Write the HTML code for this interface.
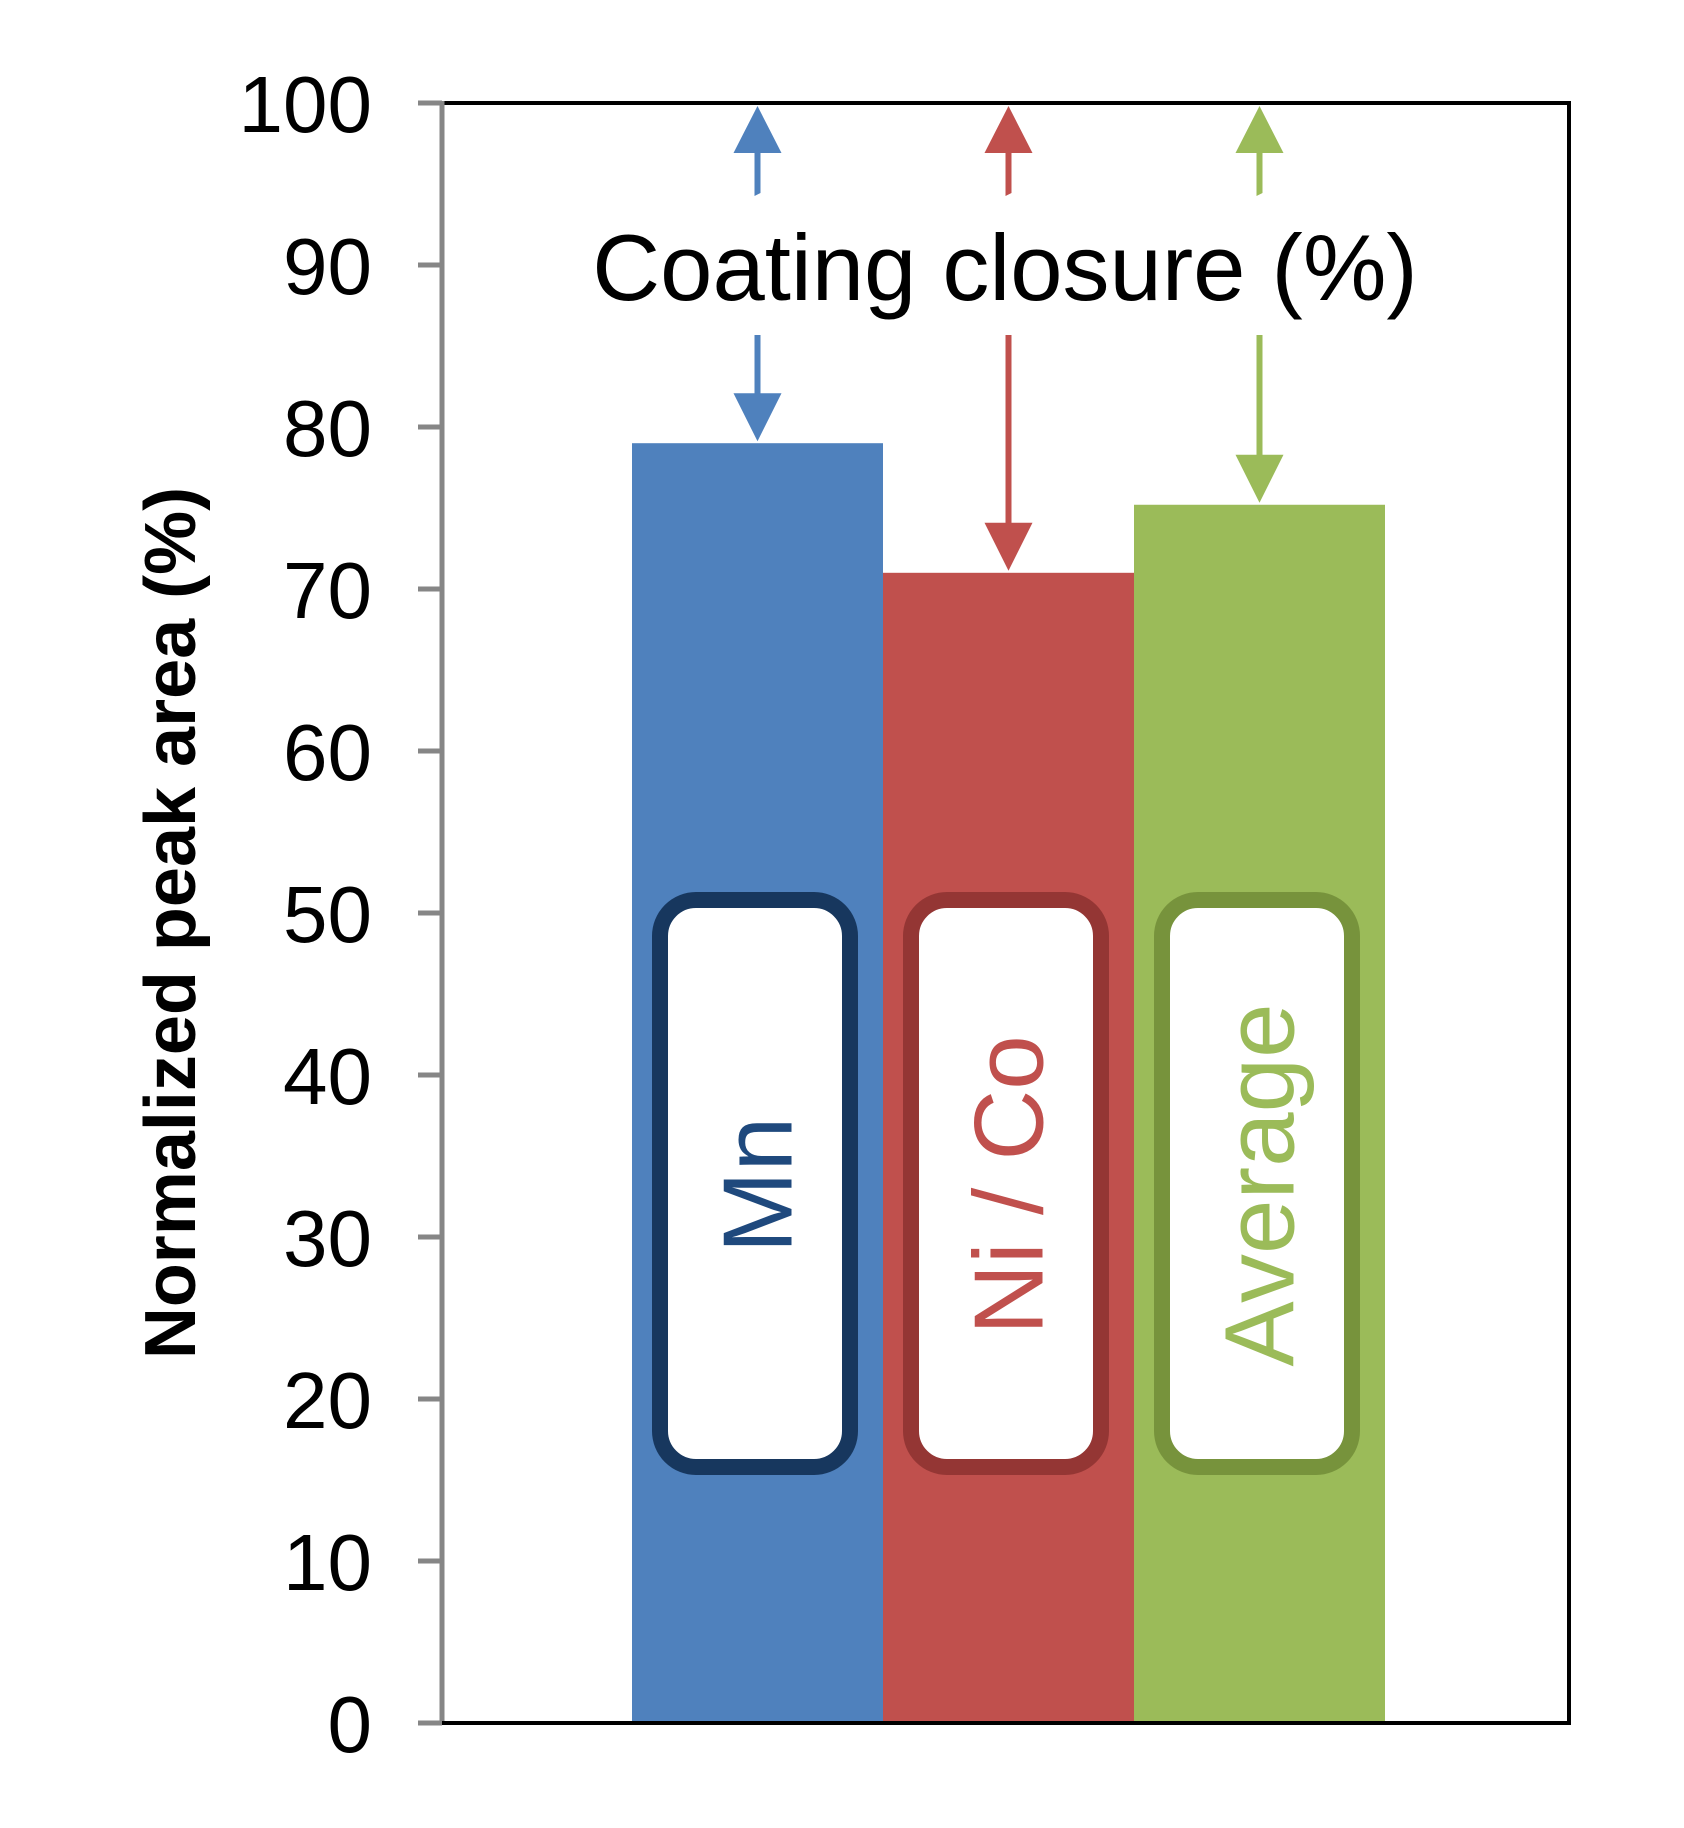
<!DOCTYPE html>
<html><head><meta charset="utf-8"><style>
html,body{margin:0;padding:0;background:#fff;}
svg{display:block;font-family:"Liberation Sans",Arial,sans-serif;}
</style></head><body>
<svg id="chart" width="1684" height="1828" viewBox="0 0 1684 1828" xmlns="http://www.w3.org/2000/svg">
<g id="bars"></g>
<g id="arrows"></g>
<g id="labels"></g>
<rect x="442" y="103" width="1127" height="1620" fill="none" stroke="#000" stroke-width="4"/>
<g id="axis"></g>
<text x="0" y="0" transform="translate(195,923) rotate(-90)" text-anchor="middle" font-size="72" font-weight="bold" fill="#000">Normalized peak area (%)</text>
<text x="1005" y="300" text-anchor="middle" font-size="94" fill="#000">Coating closure (%)</text>
</svg>
<script>
const categories = ["Mn", "Ni / Co", "Average"];
const values = [79, 71, 75.2];
const tickLabels = [0,10,20,30,40,50,60,70,80,90,100];
const fills = ["#4f81bd","#c0504d","#9bbb59"];
const darks = ["#17375e","#943634","#77933c"];
const textCols = ["#1f497d","#c0504d","#9bbb59"];
const NS="http://www.w3.org/2000/svg";
const x0=442, x1=1569, yTop=103, yBot=1723;
const barLeft=632, barW=251;
function y(v){return yBot-(v/100)*(yBot-yTop);}
function bx(i){return barLeft+i*barW;}
function mk(tag,attrs,parent){const e=document.createElementNS(NS,tag);for(const k in attrs)e.setAttribute(k,attrs[k]);parent.appendChild(e);return e;}
const gb=document.getElementById('bars'), ga=document.getElementById('arrows'), gl=document.getElementById('labels'), gx=document.getElementById('axis');
categories.forEach((c,i)=>{
  const r=mk('rect',{x:bx(i),y:y(values[i]),width:barW,height:yBot-y(values[i]),fill:fills[i]},gb);
  
  
  const cx=bx(i)+barW/2;
  // up arrow
  const up=mk('path',{d:`M${cx-3},${yTop+190-100+3} L${cx-3},${yTop+50} L${cx-24},${yTop+50} L${cx},${yTop+3} L${cx+24},${yTop+50} L${cx+3},${yTop+50} L${cx+3},${yTop+90} Z`,fill:fills[i]},ga);
  
  
  const top=y(values[i]);
  const dn=mk('path',{d:`M${cx-3},335 L${cx+3},335 L${cx+3},${top-50} L${cx+24},${top-50} L${cx},${top-2} L${cx-24},${top-50} L${cx-3},${top-50} Z`,fill:fills[i]},ga);
  
  
  const box=mk('rect',{x:bx(i)+28,y:900,width:190,height:567,rx:36,fill:"#fff",stroke:darks[i],"stroke-width":16},gl);
  
  
  const t=mk('text',{transform:`translate(${cx+34},1185) rotate(-90)`,"text-anchor":"middle","font-size":98,fill:textCols[i]},gl);
  t.textContent=c;
  
  
});
mk('line',{x1:x0,y1:yTop-2,x2:x0,y2:yBot+2,stroke:"#868686","stroke-width":5},gx);
tickLabels.forEach(v=>{
  const l=mk('line',{x1:418,y1:y(v),x2:x0,y2:y(v),stroke:"#868686","stroke-width":5},gx);
  
  
  const t=mk('text',{x:372,y:y(v)+29,"text-anchor":"end","font-size":80,fill:"#000"},gx);
  t.textContent=v;
  
  
});
mk('line',{x1:x0,y1:yBot,x2:x1,y2:yBot,stroke:"#000","stroke-width":4},gx);
</script>
</body></html>
